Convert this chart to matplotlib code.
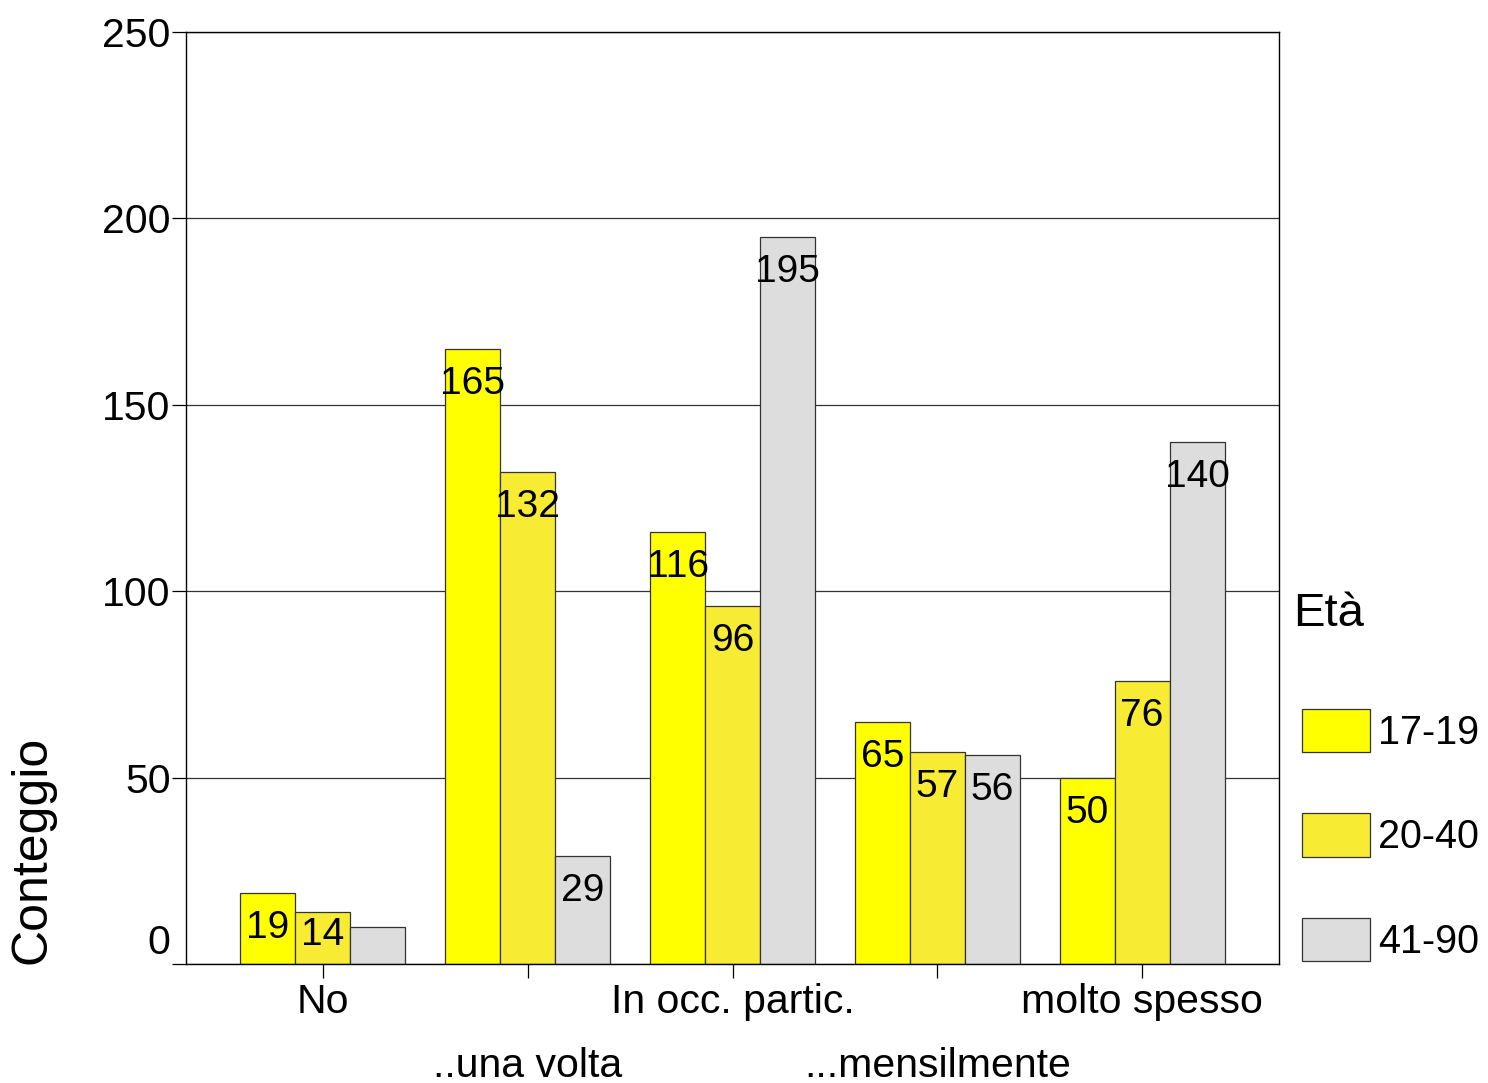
import matplotlib
matplotlib.use("Agg")
import matplotlib.pyplot as plt
import numpy as np
from matplotlib.patches import Patch

plt.rcParams['font.family'] = ['Liberation Sans', 'DejaVu Sans']

categories = ["No", "..una volta", "In occ. partic.", "...mensilmente", "molto spesso"]
series_names = ["17-19", "20-40", "41-90"]
v_17_19 = [19, 165, 116, 65, 50]
v_20_40 = [14, 132, 96, 57, 76]
v_41_90 = [10, 29, 195, 56, 140]
series_values = [v_17_19, v_20_40, v_41_90]
colors = ["#FFFF00", "#F7EC33", "#DDDDDD"]
yticks = [0, 50, 100, 150, 200, 250]

W, H = 1488, 1083
fig = plt.figure(figsize=(W / 100, H / 100), dpi=100)
ax = fig.add_axes([186 / W, 1 - 964 / H, (1279 - 186) / W, (964 - 32) / H])

x = np.arange(len(categories))
bw = 0.268
ax.set_xlim(-0.668, len(categories) - 1 + 0.668)
ax.set_ylim(0, 250)
ax.set_axisbelow(True)
ax.yaxis.grid(True, color="#333333", linewidth=0.9)

px_per_unit = (964 - 32) / 250.0
fs = 28
tfs = 29.5
for i, (vals, col) in enumerate(zip(series_values, colors)):
    xs = x + (i - 1) * bw
    ax.bar(xs, vals, width=bw, color=col, edgecolor="#333333", linewidth=0.9, zorder=2)
    for xx, v in zip(xs, vals):
        hpx = v * px_per_unit
        if hpx < 42:
            continue
        cy = max(v - 35 / px_per_unit, 29 / px_per_unit)
        ax.text(xx, cy, str(v), ha="center", va="center", fontsize=fs, zorder=3)

# y ticks
ax.set_yticks(yticks)
ax.set_yticklabels(["" if t == 0 else str(t) for t in yticks], fontsize=tfs)
ax.annotate("0", xy=(0, 0), xycoords=("axes fraction", "data"), xytext=(-16, 21),
            textcoords="offset pixels", ha="right", va="center", fontsize=tfs)
ax.tick_params(axis="y", length=10, width=0.9, pad=1)

# x ticks, alternating rows
ax.set_xticks(x)
ax.set_xticklabels(categories, fontsize=tfs)
ax.tick_params(axis="x", length=10, width=0.9, pad=4)
for i, t in enumerate(ax.xaxis.get_major_ticks()):
    if i % 2 == 1:
        t.set_pad(50)

for s in ax.spines.values():
    s.set_color("black")
    s.set_linewidth(1.0)

fig.text(33 / W, 1 - 850 / H, "Conteggio", rotation=90, ha="center", va="center", fontsize=36)

# legend
fig.text(1293 / W, 1 - 614 / H, "Età", ha="left", va="center", fontsize=34)
handles = [Patch(facecolor=c, edgecolor="#333333", linewidth=0.9) for c in colors]
leg = ax.legend(handles, series_names, loc="upper left",
                bbox_to_anchor=(1302 / W, 1 - 709 / H), bbox_transform=fig.transFigure,
                frameon=False, fontsize=28.5,
                handlelength=1.72, handleheight=1.3, labelspacing=1.55,
                handletextpad=0.2, borderaxespad=0, borderpad=0)

fig.savefig("out.png", dpi=100)
